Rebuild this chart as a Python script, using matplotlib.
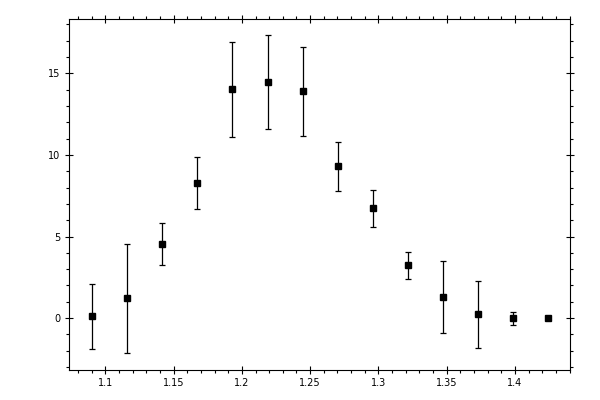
import matplotlib
matplotlib.use("Agg")
import matplotlib.pyplot as plt
from matplotlib.ticker import MultipleLocator

x_vals = [1.0905, 1.1162, 1.1418, 1.1675, 1.1931, 1.2188, 1.2445,
          1.2701, 1.2958, 1.3214, 1.3471, 1.3727, 1.3984, 1.4240]
y_vals = [0.10, 1.21, 4.52, 8.28, 14.02, 14.45, 13.90,
          9.30, 6.72, 3.23, 1.27, 0.23, -0.02, 0.0]
y_err = [2.02, 3.35, 1.29, 1.58, 2.91, 2.88, 2.73,
         1.49, 1.13, 0.82, 2.20, 2.05, 0.40, 0.0]

fig = plt.figure(figsize=(6, 4), dpi=100)
ax = fig.add_axes([0.115, 0.075, 0.835, 0.8775])

ax.errorbar(x_vals, y_vals, yerr=y_err, fmt='s', color='black',
            markersize=5.0, elinewidth=0.9, capsize=2.2, capthick=0.9,
            ecolor='black')

ax.set_xlim(1.0734, 1.4403)
ax.set_ylim(-3.18, 18.33)

ax.xaxis.set_major_locator(MultipleLocator(0.05))
ax.xaxis.set_minor_locator(MultipleLocator(0.01))
ax.yaxis.set_major_locator(MultipleLocator(5))
ax.yaxis.set_minor_locator(MultipleLocator(1))

def fmt_x(v, pos):
    return ('%.2f' % v).rstrip('0').rstrip('.')
ax.xaxis.set_major_formatter(plt.FuncFormatter(fmt_x))
ax.yaxis.set_major_formatter(plt.FuncFormatter(lambda v, p: '%d' % round(v)))

ax.tick_params(which='major', direction='inout', length=6, width=0.8,
               top=True, right=True, labelsize=7, pad=3)
ax.tick_params(which='minor', direction='out', length=2.4, width=0.8,
               top=True, right=True)
for s in ax.spines.values():
    s.set_linewidth(0.8)

fig.savefig('out.png', dpi=100)
